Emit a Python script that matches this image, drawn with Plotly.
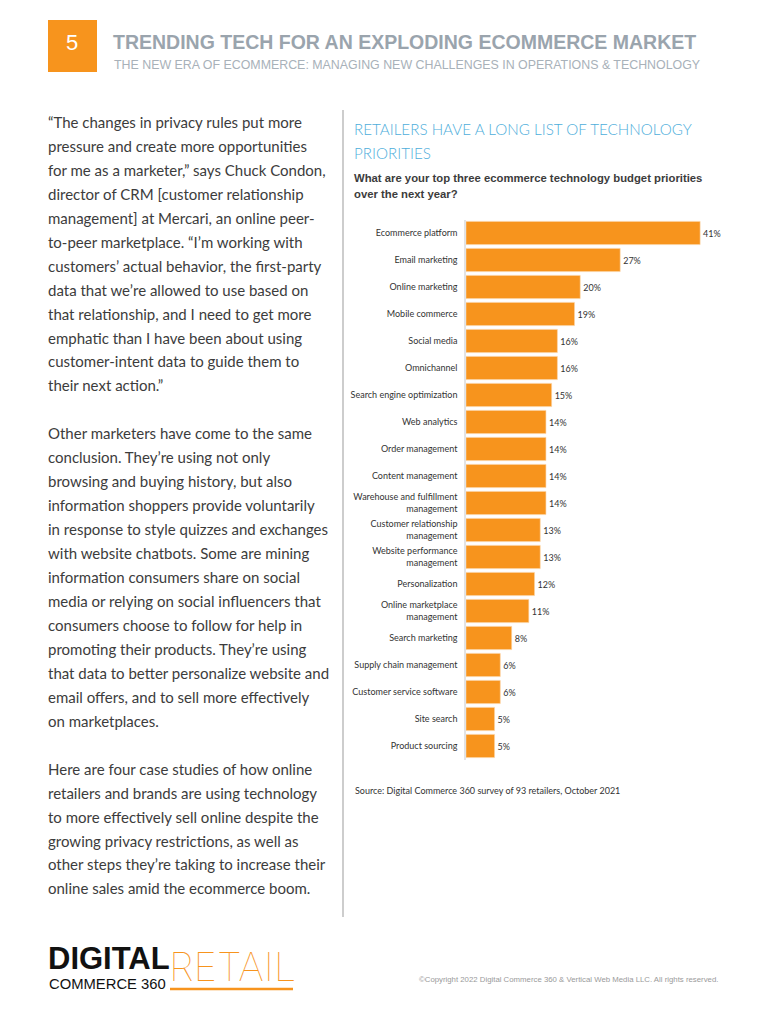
import plotly.graph_objects as go

# page is drawn inside an 8px body margin; figure covers the rest
OFF = 8
W, H = 767 - 2 * OFF, 1031 - 2 * OFF

categories = [
    "Ecommerce platform", "Email marketing", "Online marketing", "Mobile commerce",
    "Social media", "Omnichannel", "Search engine optimization", "Web analytics",
    "Order management", "Content management",
    "Warehouse and fulfillment<br>management", "Customer relationship<br>management",
    "Website performance<br>management", "Personalization",
    "Online marketplace<br>management", "Search marketing",
    "Supply chain management", "Customer service software", "Site search",
    "Product sourcing",
]
values = [41, 27, 20, 19, 16, 16, 15, 14, 14, 14, 14, 13, 13, 12, 11, 8, 6, 6, 5, 5]

page_number = "5"
header_title = "TRENDING TECH FOR AN EXPLODING ECOMMERCE MARKET"
header_subtitle = "THE NEW ERA OF ECOMMERCE: MANAGING NEW CHALLENGES IN OPERATIONS & TECHNOLOGY"
chart_title = ["RETAILERS HAVE A LONG LIST OF TECHNOLOGY", "PRIORITIES"]
chart_question = ["What are your top three ecommerce technology budget priorities", "over the next year?"]
source_text = "Source: Digital Commerce 360 survey of 93 retailers, October 2021"
copyright_text = "©Copyright 2022 Digital Commerce 360 & Vertical Web Media LLC. All rights reserved."

body_lines = [
    "“The changes in privacy rules put more",
    "pressure and create more opportunities",
    "for me as a marketer,” says Chuck Condon,",
    "director of CRM [customer relationship",
    "management] at Mercari, an online peer-",
    "to-peer marketplace. “I’m working with",
    "customers’ actual behavior, the first-party",
    "data that we’re allowed to use based on",
    "that relationship, and I need to get more",
    "emphatic than I have been about using",
    "customer-intent data to guide them to",
    "their next action.”",
    "",
    "Other marketers have come to the same",
    "conclusion. They’re using not only",
    "browsing and buying history, but also",
    "information shoppers provide voluntarily",
    "in response to style quizzes and exchanges",
    "with website chatbots. Some are mining",
    "information consumers share on social",
    "media or relying on social influencers that",
    "consumers choose to follow for help in",
    "promoting their products. They’re using",
    "that data to better personalize website and",
    "email offers, and to sell more effectively",
    "on marketplaces.",
    "",
    "Here are four case studies of how online",
    "retailers and brands are using technology",
    "to more effectively sell online despite the",
    "growing privacy restrictions, as well as",
    "other steps they’re taking to increase their",
    "online sales amid the ecommerce boom.",
]

ORANGE = "#F7941D"
SANS = "Liberation Sans, Arial"


def X(px):
    return (px - OFF) / W


def Y(py):
    return 1 - (py - OFF) / H


fig = go.Figure()
fig.add_trace(go.Bar(
    x=values, y=categories, orientation="h",
    marker=dict(color=ORANGE, line=dict(color="#FBD3A5", width=0.6)),
    text=[f"{v}%" for v in values], textposition="outside",
    textfont=dict(family="Lato", size=9, color="#333333"),
    cliponaxis=False, width=0.86, hoverinfo="skip",
))

x0_px, x1_px = 466, 740
scale = 5.71
fig.update_xaxes(domain=[X(x0_px), X(x1_px)], range=[0, (x1_px - x0_px) / scale],
                 visible=False, fixedrange=True)
fig.update_yaxes(domain=[Y(759.5), Y(219.5)], autorange="reversed",
                 showline=True, linecolor="#E3E3E3", linewidth=1.5,
                 ticks="", ticklabelstandoff=5,
                 tickfont=dict(family="Lato", size=9, color="#333333"),
                 showgrid=False, fixedrange=True)

ann = []
shapes = []

# header
shapes.append(dict(type="rect", xref="paper", yref="paper", x0=X(48), x1=X(97), y0=Y(72), y1=Y(20),
                   fillcolor=ORANGE, line=dict(width=0)))
ann.append(dict(text=page_number, x=X(72), y=Y(43), xanchor="center", yanchor="middle",
                font=dict(family=SANS, size=22, color="white")))
ann.append(dict(text=header_title, x=X(111), y=Y(42), xanchor="left", yanchor="middle",
                font=dict(family=SANS, size=19.5, color="#9AA4AD", weight="bold")))
ann.append(dict(text=header_subtitle, x=X(112), y=Y(65), xanchor="left", yanchor="middle",
                font=dict(family=SANS, size=12.4, color="#A8B1B9")))

# body text
for i, line in enumerate(body_lines):
    if not line:
        continue
    ann.append(dict(text=line, x=X(46), y=Y(122 + i * 23.95), xanchor="left", yanchor="middle",
                    font=dict(family="Lato", size=15, color="#3C3C3C")))

# divider
shapes.append(dict(type="line", xref="paper", yref="paper", x0=X(343), x1=X(343), y0=Y(110), y1=Y(917),
                   line=dict(color="#BDBDBD", width=1.5)))

# chart title
for i, line in enumerate(chart_title):
    ann.append(dict(text=line, x=X(352), y=Y(129 + i * 24), xanchor="left", yanchor="middle",
                    font=dict(family="Lato", size=15.2, color="#4EAEDB", weight=300)))
for i, line in enumerate(chart_question):
    ann.append(dict(text=line, x=X(352), y=Y(178 + i * 16), xanchor="left", yanchor="middle",
                    font=dict(family=SANS, size=11.3, color="#3C3C3C", weight="bold")))

ann.append(dict(text=source_text, x=X(353), y=Y(790), xanchor="left", yanchor="middle",
                font=dict(family="Lato", size=9, color="#333333")))

# footer logo
ann.append(dict(text="DIGITAL", x=X(46), y=Y(958), xanchor="left", yanchor="middle",
                font=dict(family=SANS, size=31, color="#111111", weight="bold")))
ann.append(dict(text="COMMERCE 360", x=X(47), y=Y(984), xanchor="left", yanchor="middle",
                font=dict(family=SANS, size=14.8, color="#111111")))
ann.append(dict(text="RETAIL", x=X(167), y=Y(966), xanchor="left", yanchor="middle",
                font=dict(family="Inter", size=40, color=ORANGE, weight=100)))
shapes.append(dict(type="line", xref="paper", yref="paper", x0=X(170), x1=X(293), y0=Y(989), y1=Y(989),
                   line=dict(color=ORANGE, width=2.5)))
ann.append(dict(text=copyright_text, x=X(720), y=Y(979), xanchor="right", yanchor="middle",
                font=dict(family=SANS, size=7.8, color="#9A9A9A")))

for a in ann:
    a.update(xref="paper", yref="paper", showarrow=False)

fig.update_layout(
    width=W, height=H, margin=dict(l=0, r=0, t=0, b=0),
    paper_bgcolor="white", plot_bgcolor="white",
    showlegend=False, annotations=ann, shapes=shapes,
)

fig.write_html("out.html", config={"displayModeBar": False})
